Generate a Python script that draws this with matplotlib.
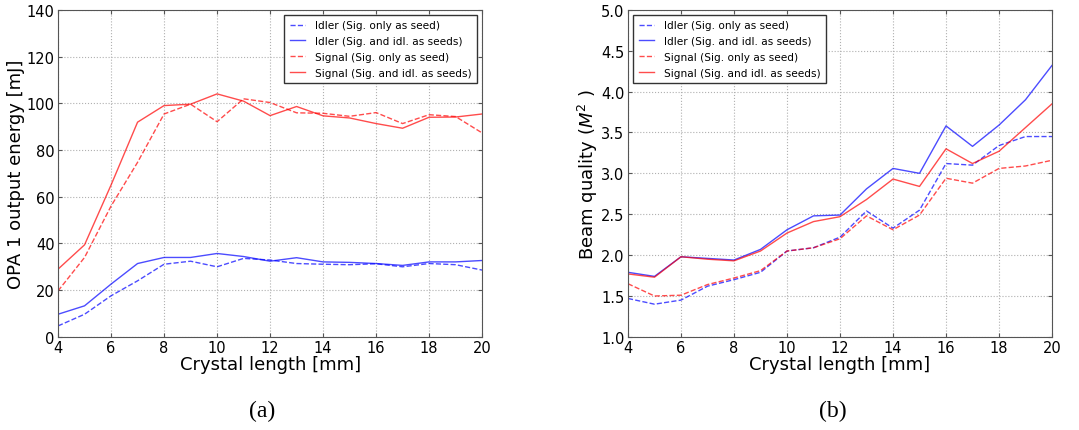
import matplotlib
matplotlib.use('Agg')
import matplotlib.pyplot as plt
import numpy as np

# crystal length [mm]
length = [4, 5, 6, 7, 8, 9, 10, 11, 12, 13, 14, 15, 16, 17, 18, 19, 20]

# (a) OPA 1 output energy [mJ]
idler_sig_only = [4.7, 9.7, 17.6, 24.0, 31.1, 32.4, 30.0, 33.6, 32.9, 31.4, 31.1, 30.9, 31.3, 30.0, 31.4, 30.9, 28.6]
idler_both = [9.7, 13.3, 22.6, 31.4, 34.0, 34.0, 35.7, 34.4, 32.4, 33.9, 32.1, 31.9, 31.4, 30.6, 32.1, 32.1, 32.7]
signal_sig_only = [19.7, 34.0, 56.0, 74.7, 95.4, 99.6, 92.1, 101.9, 100.3, 95.9, 95.7, 94.4, 96.0, 91.3, 95.1, 94.3, 87.3]
signal_both = [29.0, 39.4, 65.0, 91.9, 99.0, 99.6, 104.0, 100.9, 94.7, 98.6, 94.6, 93.7, 91.3, 89.3, 94.0, 94.1, 95.4]

# (b) beam quality M^2
m2_idler_sig_only = [1.47, 1.40, 1.45, 1.62, 1.70, 1.79, 2.05, 2.09, 2.22, 2.54, 2.33, 2.55, 3.12, 3.10, 3.34, 3.45, 3.45]
m2_idler_both = [1.79, 1.74, 1.98, 1.96, 1.94, 2.07, 2.31, 2.48, 2.49, 2.81, 3.06, 3.00, 3.58, 3.33, 3.59, 3.90, 4.32]
m2_signal_sig_only = [1.65, 1.50, 1.51, 1.64, 1.72, 1.81, 2.05, 2.09, 2.20, 2.48, 2.31, 2.49, 2.94, 2.88, 3.06, 3.09, 3.16]
m2_signal_both = [1.77, 1.73, 1.98, 1.95, 1.93, 2.05, 2.27, 2.41, 2.47, 2.68, 2.93, 2.84, 3.30, 3.12, 3.27, 3.56, 3.85]

labels = ['Idler (Sig. only as seed)', 'Idler (Sig. and idl. as seeds)',
          'Signal (Sig. only as seed)', 'Signal (Sig. and idl. as seeds)']


def draw_panel(ax, series, ylim, yticks, legend_loc):
    styles = [('b', '--'), ('b', '-'), ('r', '--'), ('r', '-')]
    for vals, (c, ls), lab in zip(series, styles, labels):
        ax.plot(length, vals, color=c, ls=ls, lw=1, alpha=0.7, label=lab)
    ax.set_xlim(4, 20)
    ax.set_xticks(range(4, 21, 2))
    ax.set_ylim(*ylim)
    ax.set_yticks(yticks)
    ax.grid(True, color='#b0b0b0', ls=':', lw=0.8)
    ax.tick_params(direction='in', top=True, right=True, labelsize=10.5,
                   pad=2.5, length=3, color='#555555')
    for s in ax.spines.values():
        s.set_color('#555555')
    ax.set_xlabel('Crystal length [mm]', fontsize=13, labelpad=0)
    leg = ax.legend(loc=legend_loc, fontsize=7.6, fancybox=False, framealpha=1,
                    handlelength=1.5, handletextpad=0.9, borderaxespad=0.5,
                    labelspacing=0.55, borderpad=0.5)
    leg.get_frame().set_edgecolor('#333333')


fig = plt.figure(figsize=(10.79, 4.31), dpi=100)
ax1 = fig.add_axes([0.0538, 0.216, 0.393, 0.759])
ax2 = fig.add_axes([0.582, 0.216, 0.393, 0.759])

draw_panel(ax1, [idler_sig_only, idler_both, signal_sig_only, signal_both],
           (0, 140), range(0, 141, 20), 'upper right')
ax1.set_ylabel('OPA 1 output energy [mJ]', fontsize=13, labelpad=1)

draw_panel(ax2, [m2_idler_sig_only, m2_idler_both, m2_signal_sig_only, m2_signal_both],
           (1.0, 5.0), np.arange(1.0, 5.01, 0.5), 'upper left')
ax2.set_ylabel(r'Beam quality ($M^2$ )', fontsize=13, labelpad=1)

fig.text(0.243, 0.045, '(a)', fontsize=17, family='Liberation Serif', ha='center', va='center')
fig.text(0.772, 0.045, '(b)', fontsize=17, family='Liberation Serif', ha='center', va='center')

fig.savefig('out.png', dpi=100)
